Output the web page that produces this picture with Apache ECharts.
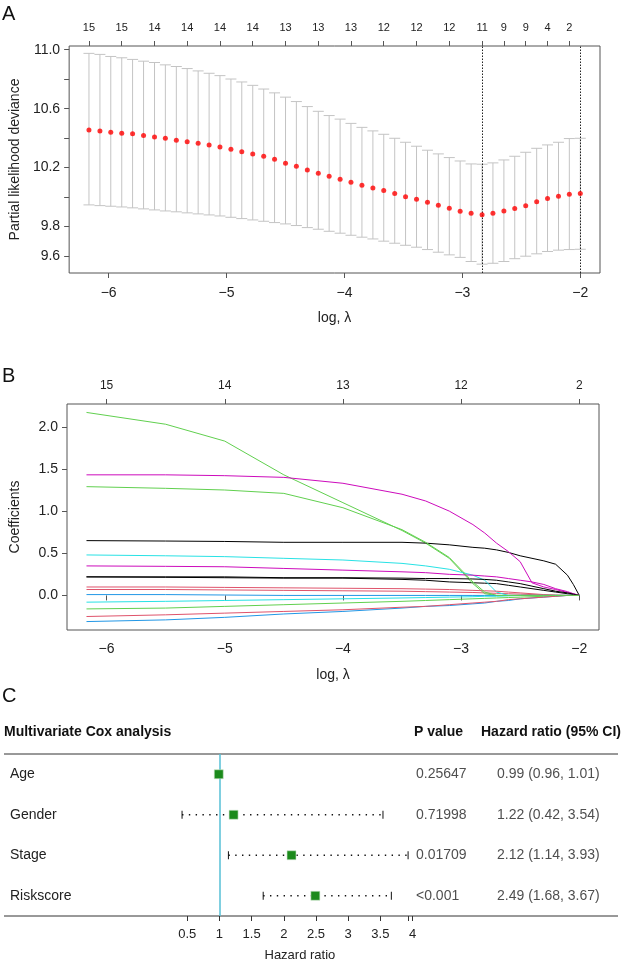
<!DOCTYPE html>
<html><head><meta charset="utf-8">
<script src="https://cdn.jsdelivr.net/npm/echarts@6/dist/echarts.min.js"></script>
<style>html,body{margin:0;padding:0;background:#fff}#c{width:623px;height:963px}</style>
</head><body><div id="c"></div>
<script>
// ---------- Panel A data (cross-validation curve) ----------
const logLambda = [-6.167,-6.074,-5.982,-5.889,-5.797,-5.704,-5.611,-5.519,-5.426,-5.334,
  -5.241,-5.148,-5.056,-4.963,-4.871,-4.778,-4.685,-4.593,-4.500,-4.408,
  -4.315,-4.222,-4.130,-4.037,-3.945,-3.852,-3.759,-3.667,-3.574,-3.482,
  -3.389,-3.296,-3.204,-3.111,-3.019,-2.926,-2.833,-2.741,-2.648,-2.556,
  -2.463,-2.370,-2.278,-2.185,-2.093,-2.000];
const cvMean = [10.455,10.449,10.440,10.433,10.429,10.417,10.408,10.399,10.385,10.376,
  10.365,10.354,10.340,10.324,10.308,10.293,10.277,10.256,10.229,10.209,
  10.184,10.162,10.141,10.121,10.101,10.080,10.062,10.044,10.024,10.003,
  9.985,9.965,9.945,9.924,9.904,9.890,9.881,9.890,9.906,9.922,
  9.942,9.969,9.990,10.006,10.019,10.024];
const cvUpper = [10.975,10.968,10.954,10.945,10.934,10.922,10.913,10.897,10.886,10.872,
  10.856,10.840,10.824,10.801,10.781,10.758,10.733,10.707,10.678,10.648,
  10.614,10.582,10.553,10.529,10.500,10.473,10.449,10.426,10.399,10.372,
  10.345,10.318,10.293,10.268,10.245,10.225,10.223,10.232,10.252,10.277,
  10.304,10.331,10.354,10.372,10.397,10.399];
const cvLower = [9.947,9.942,9.938,9.933,9.927,9.920,9.913,9.906,9.900,9.893,
  9.886,9.879,9.872,9.863,9.854,9.845,9.836,9.827,9.818,9.807,
  9.793,9.782,9.768,9.755,9.741,9.728,9.716,9.701,9.687,9.673,
  9.660,9.644,9.626,9.608,9.591,9.563,9.545,9.551,9.563,9.582,
  9.599,9.615,9.631,9.640,9.644,9.646];
const topTickIndex = [0,3,6,9,12,15,18,21,24,27,30,33,36,38,40,42,44];
const topTickLabels = ['15','15','14','14','14','14','13','13','13','12','12','12','11','9','9','4','2'];
const lambdaMinIndex = 36;
const lambda1seIndex = 45;
const cvYTicks = [9.6,9.8,10.0,10.2,10.4,10.6,10.8,11.0];
const cvYLabels = [9.6,9.8,10.2,10.6,11.0];
const xTicks = [-6,-5,-4,-3,-2];

// ---------- Panel B data (coefficient paths) ----------
const pathLogLambda = [-6.17,-5.5,-5.0,-4.5,-4.0,-3.5,-3.3,-3.1,-2.9,-2.8,-2.7,-2.6,-2.5,-2.4,-2.3,-2.2,-2.1,-2.05,-2.0];
const coefVar1  = [0.22,0.215,0.21,0.205,0.205,0.19,0.18,0.16,0.15,0.145,0.14,0.12,0.10,0.08,0.06,0.04,0.02,0.01,0];
const coefVar2  = [0.07,0.07,0.065,0.06,0.055,0.05,0.045,0.04,0.035,0.03,0.025,0.02,0.015,0.01,0.005,0,0,0,0];
const coefVar3  = [2.17,2.03,1.83,1.43,1.10,0.77,0.62,0.44,0.14,0.02,0,0,0,0,0,0,0,0,0];
const coefVar4  = [-0.31,-0.29,-0.26,-0.22,-0.19,-0.15,-0.13,-0.12,-0.10,-0.09,-0.07,-0.06,-0.04,-0.03,-0.02,-0.01,0,0,0];
const coefVar5  = [0.48,0.47,0.46,0.44,0.42,0.38,0.35,0.31,0.24,0.18,0.04,0,0,0,0,0,0,0,0];
const coefVar6  = [0.35,0.345,0.34,0.32,0.30,0.28,0.27,0.25,0.24,0.23,0.22,0.20,0.18,0.16,0.13,0.08,0.045,0.02,0];
const coefVar7  = [0.65,0.645,0.64,0.63,0.63,0.63,0.62,0.60,0.57,0.56,0.54,0.51,0.47,0.44,0.41,0.37,0.24,0.13,0];
const coefVar8  = [0.10,0.10,0.095,0.09,0.085,0.08,0.075,0.07,0.06,0.055,0.05,0.04,0.03,0.02,0.01,0.005,0,0,0];
const coefVar9  = [-0.16,-0.15,-0.13,-0.11,-0.09,-0.07,-0.06,-0.05,-0.04,-0.035,-0.03,-0.025,-0.02,-0.015,-0.01,-0.005,0,0,0];
const coefVar10 = [0.01,0.01,0.005,0,0,0,0,0,0,0,0,0,0,0,0,0,0,0,0];
const coefVar11 = [-0.08,-0.07,-0.06,-0.05,-0.04,-0.03,-0.025,-0.02,-0.015,-0.01,-0.01,-0.005,0,0,0,0,0,0,0];
const coefVar12 = [1.43,1.43,1.42,1.40,1.33,1.20,1.12,1.00,0.84,0.74,0.62,0.52,0.40,0.15,0.10,0.07,0.035,0.02,0];
const coefVar13 = [0.22,0.22,0.22,0.21,0.21,0.205,0.20,0.20,0.195,0.19,0.18,0.16,0.14,0.11,0.08,0.05,0.03,0.015,0];
const coefVar14 = [-0.25,-0.23,-0.21,-0.19,-0.17,-0.14,-0.13,-0.11,-0.09,-0.08,-0.07,-0.05,-0.04,-0.03,-0.02,-0.01,0,0,0];
const coefVar15 = [1.29,1.27,1.25,1.21,1.04,0.78,0.63,0.45,0.16,0.04,0,0,0,0,0,0,0,0,0];
const coefTopLabels = ['15','14','13','12','2'];
const coefYTicks = [0,0.5,1,1.5,2];

// ---------- Panel C data (forest plot) ----------
const coxVars = ['Age','Gender','Stage','Riskscore'];
const coxHR   = [0.99,1.22,2.12,2.49];
const coxLow  = [0.96,0.42,1.14,1.68];
const coxHigh = [1.01,3.54,3.93,3.67];
const coxP    = ['0.25647','0.71998','0.01709','<0.001'];
const coxHRtext = ['0.99 (0.96, 1.01)','1.22 (0.42, 3.54)','2.12 (1.14, 3.93)','2.49 (1.68, 3.67)'];
const hrTicks = [0.5,1,1.5,2,2.5,3,3.5,4];

// ---------- styling / layout ----------
const FONT = '"Liberation Sans", Arial, Helvetica, sans-serif';
const TXT = '#222';
const BOX = '#555';
const rPalette = ['#000000','#DF536B','#61D04F','#2297E6','#28E2E5','#CD0BBC'];
const coefs = [coefVar1,coefVar2,coefVar3,coefVar4,coefVar5,coefVar6,coefVar7,coefVar8,
               coefVar9,coefVar10,coefVar11,coefVar12,coefVar13,coefVar14,coefVar15];
const C_LEFT = 155, C_UNIT = 64.4, C_WIDTH = 463;

const chart = echarts.init(document.getElementById('c'), null, {renderer:'canvas'});

function valueAxisBase(extra){
  return Object.assign({
    type:'value', splitLine:{show:false},
    axisLine:{show:false},
    nameTextStyle:{color:TXT, fontFamily:FONT, fontSize:14}
  }, extra);
}
function tickCfg(vals, col){ return {show:true, length:5, lineStyle:{color:col||BOX}, customValues:vals}; }
const xMinA = -6.335, xMaxA = -1.833;
const minus = v => String(v).replace('-','\u2212');
function nearestLabel(vals, labels){
  return v => { let b=0,d=1e9; vals.forEach((t,k)=>{const dd=Math.abs(t-v); if(dd<d){d=dd;b=k;}}); return labels[b]; };
}

const cvBarData = logLambda.map((x,i)=>[x, cvLower[i], cvUpper[i]]);
const cvPointData = logLambda.map((x,i)=>[x, cvMean[i]]);
const topTickVals = topTickIndex.map(i=>logLambda[i]);

const pathSeries = coefs.map((arr,k)=>({
  type:'line', xAxisIndex:2, yAxisIndex:1, symbol:'none', silent:true,
  lineStyle:{color:rPalette[k%6], width:1}, z:3,
  data: pathLogLambda.map((x,j)=> j===0 ? {value:[x,arr[j]], label:{show:true, position:'left', distance:5,
      formatter:String(k+1), fontSize:7, color:'#333', fontFamily:FONT}} : [x,arr[j]])
}));

const rowsC = coxVars.map((v,i)=>[i, coxLow[i], coxHigh[i], coxHR[i]]);

const option = {
  animation:false,
  backgroundColor:'#fff',
  textStyle:{fontFamily:FONT},
  graphic:[
    {type:'text', left:2, top:4, style:{text:'A', fontSize:20, fontFamily:FONT, fill:'#111'}},
    {type:'text', left:2, top:366, style:{text:'B', fontSize:20, fontFamily:FONT, fill:'#111'}},
    {type:'text', left:2, top:686, style:{text:'C', fontSize:20, fontFamily:FONT, fill:'#111'}},
    {type:'text', left:4, top:725, style:{text:'Multivariate Cox analysis', fontSize:14, fontWeight:'bold', fontFamily:FONT, fill:'#111'}},
    {type:'text', left:414, top:725, style:{text:'P value', fontSize:14, fontWeight:'bold', fontFamily:FONT, fill:'#111'}},
    {type:'text', left:481, top:725, style:{text:'Hazard ratio (95% CI)', fontSize:14, fontWeight:'bold', fontFamily:FONT, fill:'#111'}},
    {type:'text', x:C_LEFT + 2.25*C_UNIT, y:955, style:{text:'Hazard ratio', fontSize:13, fontFamily:FONT, fill:TXT, textAlign:'center', textVerticalAlign:'middle'}},
    {type:'line', shape:{x1:4,y1:754,x2:618,y2:754}, style:{stroke:'#333', lineWidth:1}},
    {type:'line', shape:{x1:4,y1:916,x2:618,y2:916}, style:{stroke:'#333', lineWidth:1}}
  ],
  grid:[
    {left:62, top:46, width:538, height:227, show:true, borderColor:BOX, borderWidth:1, backgroundColor:'transparent'},
    {left:62, top:404, width:537, height:226, show:true, borderColor:BOX, borderWidth:1, backgroundColor:'transparent'},
    {left:C_LEFT, top:754, width:C_WIDTH, height:162, show:false}
  ],
  xAxis:[
    valueAxisBase({gridIndex:0, min:xMinA, max:xMaxA, position:'bottom',
      axisTick:tickCfg(xTicks),
      axisLabel:{color:TXT, fontFamily:FONT, fontSize:14, margin:13, customValues:xTicks, formatter:minus},
      name:'log, \u03bb', nameLocation:'middle', nameGap:38}),
    valueAxisBase({gridIndex:0, min:xMinA, max:xMaxA, position:'top',
      axisTick:tickCfg(topTickVals),
      axisLabel:{color:TXT, fontFamily:FONT, fontSize:11, margin:13, customValues:topTickVals,
        formatter:nearestLabel(topTickVals, topTickLabels)}}),
    valueAxisBase({gridIndex:1, min:xMinA, max:xMaxA, position:'bottom',
      axisTick:tickCfg(xTicks),
      axisLabel:{color:TXT, fontFamily:FONT, fontSize:14, margin:12, customValues:xTicks, formatter:minus},
      name:'log, \u03bb', nameLocation:'middle', nameGap:38}),
    valueAxisBase({gridIndex:1, min:xMinA, max:xMaxA, position:'top',
      axisTick:tickCfg(xTicks),
      axisLabel:{color:TXT, fontFamily:FONT, fontSize:12, margin:12, customValues:xTicks,
        formatter:nearestLabel(xTicks, coefTopLabels)}}),
    valueAxisBase({gridIndex:2, min:0, max:C_WIDTH/C_UNIT, position:'bottom',
      axisTick:tickCfg(hrTicks.concat([Math.max(...coxHigh)]), '#333'),
      axisLabel:{color:TXT, fontFamily:FONT, fontSize:13, margin:12, customValues:hrTicks}})
  ],
  yAxis:[
    valueAxisBase({gridIndex:0, min:9.485, max:11.025,
      axisTick:tickCfg(cvYTicks),
      axisLabel:{color:TXT, fontFamily:FONT, fontSize:14, margin:9, customValues:cvYLabels, formatter:v=>v.toFixed(1)},
      name:'Partial likelihood deviance', nameLocation:'middle', nameGap:45, nameRotate:90}),
    valueAxisBase({gridIndex:1, min:-0.41, max:2.27,
      axisTick:tickCfg(coefYTicks),
      axisLabel:{color:TXT, fontFamily:FONT, fontSize:14, margin:9, customValues:coefYTicks, formatter:v=>v.toFixed(1)},
      name:'Coefficients', nameLocation:'middle', nameGap:45, nameRotate:90}),
    {type:'category', gridIndex:2, data:coxVars, inverse:true,
      axisLine:{show:false}, axisTick:{show:false}, splitLine:{show:false},
      axisLabel:{color:TXT, fontFamily:FONT, fontSize:14, align:'left', margin:C_LEFT-10}}
  ],
  series:[
    {type:'custom', xAxisIndex:0, yAxisIndex:0, silent:true, data:cvBarData,
      renderItem:(params, api)=>{
        const x=api.value(0), lo=api.value(1), hi=api.value(2);
        const a=api.coord([x,lo]), b=api.coord([x,hi]); const cw=5.5;
        const st={stroke:'#c4c4c4', lineWidth:1};
        return {type:'group', children:[
          {type:'line', shape:{x1:a[0],y1:a[1],x2:b[0],y2:b[1]}, style:st},
          {type:'line', shape:{x1:a[0]-cw,y1:a[1],x2:a[0]+cw,y2:a[1]}, style:st},
          {type:'line', shape:{x1:b[0]-cw,y1:b[1],x2:b[0]+cw,y2:b[1]}, style:st}
        ]};
      }},
    {type:'scatter', xAxisIndex:0, yAxisIndex:0, silent:true, data:cvPointData, symbolSize:5,
      itemStyle:{color:'#ff0000'}, z:5,
      markLine:{silent:true, symbol:'none', label:{show:false},
        lineStyle:{color:'#222', type:[1.5,1.5], width:1},
        data:[{xAxis:logLambda[lambdaMinIndex]},{xAxis:logLambda[lambda1seIndex]}]}},
    ...pathSeries,
    {type:'custom', xAxisIndex:4, yAxisIndex:2, silent:true, data:rowsC, z:5,
      renderItem:(params, api)=>{
        const r=api.value(0), lo=api.value(1), hi=api.value(2), hr=api.value(3);
        const a=api.coord([lo,r]), b=api.coord([hi,r]), c=api.coord([hr,r]);
        const st={stroke:'#111', lineWidth:1};
        const s=9;
        return {type:'group', children:[
          {type:'line', shape:{x1:a[0],y1:a[1],x2:b[0],y2:b[1]}, style:{stroke:'#111', lineWidth:1.4, lineDash:[1.4,5.4]}},
          {type:'line', shape:{x1:a[0],y1:a[1]-4,x2:a[0],y2:a[1]+4}, style:st},
          {type:'line', shape:{x1:b[0],y1:b[1]-4,x2:b[0],y2:b[1]+4}, style:st},
          {type:'rect', shape:{x:c[0]-s/2,y:c[1]-s/2,width:s,height:s}, style:{fill:'#1b8a1b', stroke:'#cfe6cf', lineWidth:0.6}, z2:10}
        ]};
      }},
    {type:'scatter', xAxisIndex:4, yAxisIndex:2, silent:true, symbolSize:0, z:1,
      data:coxP.map((p,i)=>({value:[(416-C_LEFT)/C_UNIT, i], label:{show:true, position:'right', distance:0, formatter:p,
        color:TXT, fontFamily:FONT, fontSize:14}})),
      markLine:{silent:true, symbol:'none', label:{show:false}, lineStyle:{color:'#56bfd6', type:'solid', width:1.5},
        data:[{xAxis:1}]}},
    {type:'scatter', xAxisIndex:4, yAxisIndex:2, silent:true, symbolSize:0, z:1,
      data:coxHRtext.map((t,i)=>({value:[(497-C_LEFT)/C_UNIT, i], label:{show:true, position:'right', distance:0, formatter:t,
        color:TXT, fontFamily:FONT, fontSize:14}}))}
  ]
};
chart.setOption(option);
</script>
</body></html>
